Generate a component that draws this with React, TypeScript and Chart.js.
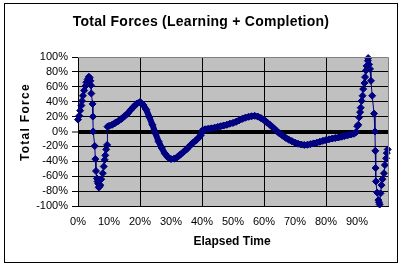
import React, { useEffect, useRef } from "react";
import { Chart, registerables } from "chart.js";

Chart.register(...registerables);

const chartTitle = "Total Forces (Learning + Completion)";
const xAxisTitle = "Elapsed Time";
const yAxisTitle = "Total Force";

const elapsedTime: number[] = [
  0, 0.4, 0.7, 1.1, 1.3, 1.6, 2.0, 2.4, 2.7, 3.1, 3.5, 3.8, 4.0, 4.2, 4.3, 4.7, 4.8, 4.9,
  5.4, 5.6, 5.8, 6.1, 6.3, 6.5, 6.7, 6.9, 7.2, 7.5, 8.0, 8.3, 8.6, 8.8, 9.1, 9.4,
  9.5, 10, 11, 12, 13, 14, 15, 16, 17, 18, 19, 20, 21, 22, 23, 24, 25, 26, 27, 28, 29,
  30, 31, 32, 33, 34, 35, 36, 37, 38, 39, 39.6, 40.2, 41, 42, 43, 44, 45, 46, 47, 48, 49,
  50, 51, 52, 53, 54, 55, 56, 57, 58, 59, 60, 61, 62, 63, 64, 65, 66, 67, 68, 69,
  70, 71, 72, 73, 74, 75, 76, 77, 78, 79, 80, 81, 82, 83, 84, 85, 86, 87, 88, 89, 89.8,
  90.1, 90.4, 90.7, 91.0, 91.2, 91.5, 91.8, 92.0, 92.4, 92.6, 92.9, 93.1, 93.5, 93.6,
  93.9, 94.2, 94.5, 94.9, 95.5, 95.8, 95.9, 96.0, 96.1, 96.5, 96.9, 97.1, 97.3,
  97.6, 97.9, 98.2, 98.7, 99.0, 99.4, 99.6, 99.9,
];

const totalForce: number[] = [
  16, 21, 28, 35, 41, 48, 55, 61, 66, 70, 73.5, 72, 68, 62, 51, 37, 20, 0,
  -19.5, -37, -53, -63, -67, -70, -75, -74, -72, -64, -56, -47, -38, -32, -24, -18,
  6.5, 7.5, 9, 11.5, 14, 17, 20.5, 24, 29, 33.5, 37.5, 39.5, 36, 29.5, 19.5, 9, -2.5, -13.5, -22, -29.5, -34.5,
  -37, -36.5, -34.5, -31, -27.5, -24, -19.5, -15.5, -12, -8, -5, 1.5, 3, 3.7, 4.3, 5, 6, 7, 8, 9, 10.5,
  11.5, 13, 15, 17, 18.5, 19.7, 20.5, 21, 20, 18, 15.5, 12, 8.7, 5, 1, -2.5, -5.5, -8.5, -11, -13,
  -15, -16.5, -17.5, -18, -17.8, -17, -16, -15, -13.8, -12.5, -11.5, -10.5, -9.5, -8.7, -8, -7, -6, -5, -4, -3, -0.5,
  7, 9, 19, 26, 32, 41, 48, 57, 65, 73, 82, 88, 95, 98.6,
  90, 84, 68, 48, 24, 0, -26, -49, -67, -82, -92, -95, -98,
  -83, -72, -64, -56, -45, -36, -29, -24,
];

const yTickValues: number[] = [-100, -80, -60, -40, -20, 0, 20, 40, 60, 80, 100];
const xTickValues: number[] = [0, 10, 20, 30, 40, 50, 60, 70, 80, 90, 100];
const xGridValues: number[] = [20, 40, 60, 80];

const FONT = "'Liberation Sans', Arial, sans-serif";
const NAVY = "#000080";

export default function App() {
  const ref = useRef<HTMLCanvasElement | null>(null);

  useEffect(() => {
    const canvas = ref.current;
    if (!canvas) return;

    const decor = {
      id: "decor",
      beforeDraw(chart: any) {
        const { ctx, chartArea: a } = chart;
        ctx.save();
        ctx.fillStyle = "#ffffff";
        ctx.fillRect(0, 0, chart.width, chart.height);
        ctx.fillStyle = "#c0c0c0";
        ctx.fillRect(a.left, a.top, a.right - a.left, a.bottom - a.top);
        ctx.restore();
      },
      afterDraw(chart: any) {
        const { ctx, chartArea: a } = chart;
        ctx.save();
        ctx.strokeStyle = "#808080";
        ctx.lineWidth = 1;
        ctx.beginPath();
        ctx.moveTo(a.left, a.top + 0.5);
        ctx.lineTo(a.right + 0.5, a.top + 0.5);
        ctx.lineTo(a.right + 0.5, a.bottom);
        ctx.stroke();
        ctx.strokeStyle = "#000000";
        ctx.strokeRect(4.5, 3.5, 393, 259);
        ctx.fillStyle = "#000000";
        ctx.textAlign = "center";
        ctx.textBaseline = "middle";
        ctx.font = `bold 14px ${FONT}`;
        (ctx as any).letterSpacing = "0.25px";
        ctx.fillText(chartTitle, 201, 22);
        ctx.font = `bold 12px ${FONT}`;
        (ctx as any).letterSpacing = "0px";
        ctx.fillText(xAxisTitle, 232, 242);
        ctx.translate(26, 122);
        ctx.rotate(-Math.PI / 2);
        (ctx as any).letterSpacing = "1.3px";
        ctx.fillText(yAxisTitle, 0, 0);
        ctx.restore();
      },
    };

    const inMiddle = (c: any) => c.p0.parsed.x >= 9.5 && c.p1.parsed.x <= 89.8;

    const chart = new Chart(canvas, {
      type: "line",
      data: {
        datasets: [
          {
            data: elapsedTime.map((x, i) => ({ x, y: totalForce[i] })),
            borderColor: NAVY,
            backgroundColor: NAVY,
            borderWidth: 1,
            pointStyle: "rectRot",
            pointRadius: 3.5,
            pointBorderWidth: 1,
            pointBorderColor: NAVY,
            pointBackgroundColor: NAVY,
            tension: 0,
            clip: 10,
            segment: {
              borderWidth: (c: any) => (inMiddle(c) ? 6 : 1),
            },
          } as any,
        ],
      },
      options: {
        animation: false,
        responsive: false,
        maintainAspectRatio: false,
        events: [],
        layout: { padding: { left: 0, top: 57, right: 16, bottom: 0 } },
        plugins: {
          legend: { display: false },
          title: { display: false },
          tooltip: { enabled: false },
        },
        scales: {
          x: {
            type: "linear",
            min: 0,
            max: 100,
            afterFit(scale: any) {
              scale.height = 64;
            },
            afterBuildTicks(scale: any) {
              scale.ticks = xTickValues.map((v) => ({ value: v }));
            },
            ticks: {
              padding: 9,
              color: "#000000",
              font: { family: FONT, size: 11 },
              maxRotation: 0,
              autoSkip: false,
              callback: (v: any) => (Number(v) >= 100 ? "" : `${v}%`),
            },
            grid: {
              drawTicks: false,
              color: (c: any) => (c.tick && xGridValues.includes(c.tick.value) ? "#000000" : "rgba(0,0,0,0)"),
              lineWidth: 1,
            },
            border: { display: true, color: "#000000", width: 1 },
          },
          y: {
            type: "linear",
            min: -100,
            max: 100,
            afterFit(scale: any) {
              scale.width = 78;
            },
            afterBuildTicks(scale: any) {
              scale.ticks = yTickValues.map((v) => ({ value: v }));
            },
            ticks: {
              padding: 4,
              color: "#000000",
              font: { family: FONT, size: 11 },
              autoSkip: false,
              callback: (v: any) => `${v}%`,
            },
            grid: {
              color: (c: any) => (c.tick && c.tick.value === 100 ? "#808080" : "#000000"),
              lineWidth: (c: any) => (c.tick && c.tick.value === 0 ? 4 : 1),
              tickColor: "#000000",
              tickLength: 6,
              tickWidth: 1,
            },
            border: { display: true, color: "#000000", width: 1 },
          },
        },
      },
      plugins: [decor],
    } as any);

    return () => chart.destroy();
  }, []);

  return (
    <div style={{ position: "fixed", left: 0, top: 0, width: 404, height: 270, background: "#fff" }}>
      <canvas ref={ref} width={404} height={270} style={{ display: "block", width: 404, height: 270 }} />
    </div>
  );
}
